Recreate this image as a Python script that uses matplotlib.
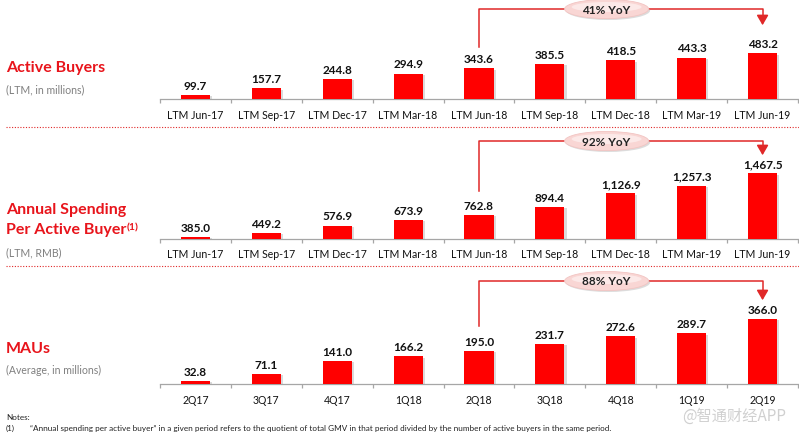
import numpy as np
import matplotlib
matplotlib.use('Agg')
import matplotlib.pyplot as plt
from matplotlib.patches import Ellipse
import matplotlib.patheffects as pe
from matplotlib import transforms

plt.rcParams['font.family'] = ['Lato', 'DejaVu Sans']

ltm_labels = ['LTM Jun-17', 'LTM Sep-17', 'LTM Dec-17', 'LTM Mar-18', 'LTM Jun-18',
              'LTM Sep-18', 'LTM Dec-18', 'LTM Mar-19', 'LTM Jun-19']
quarter_labels = ['2Q17', '3Q17', '4Q17', '1Q18', '2Q18', '3Q18', '4Q18', '1Q19', '2Q19']

active_buyers = [99.7, 157.7, 244.8, 294.9, 343.6, 385.5, 418.5, 443.3, 483.2]
spending = [385.0, 449.2, 576.9, 673.9, 762.8, 894.4, 1126.9, 1257.3, 1467.5]
maus = [32.8, 71.1, 141.0, 166.2, 195.0, 231.7, 272.6, 289.7, 366.0]

yoy_labels = ['41% YoY', '92% YoY', '88% YoY']

W, H = 799, 435
RED = '#FF0000'
TITLE_RED = '#E8141B'
GREY = '#808080'
LINE_RED = '#E02828'

fig = plt.figure(figsize=(W / 100, H / 100), dpi=100)


def fy(px):
    return 1 - px / H


def fx(px):
    return px / W


# panel layout: baseline px, top px, axis floor value, px per unit, bracket positions
panels = [
    dict(vals=active_buyers, labels=ltm_labels, base=100, top=0, floor=60, scale=0.108,
         br_top=10, br_start=48, br_tip=29, yoy=yoy_labels[0]),
    dict(vals=spending, labels=ltm_labels, base=239.5, top=135, floor=356, scale=0.0585,
         br_top=142, br_start=192, br_tip=159, yoy=yoy_labels[1]),
    dict(vals=maus, labels=quarter_labels, base=385, top=275, floor=16.7, scale=0.186,
         br_top=282, br_start=327, br_tip=304, yoy=yoy_labels[2]),
]

x_left, x_right = 160, 798

for p in panels:
    ax = fig.add_axes([fx(x_left), fy(p['base']), fx(x_right - x_left),
                       (p['base'] - p['top']) / H])
    n = len(p['vals'])
    x = np.arange(n)
    span = (p['base'] - p['top']) / p['scale']
    ax.set_xlim(-0.5, n - 0.5)
    ax.set_ylim(p['floor'], p['floor'] + span)
    bars = ax.bar(x, p['vals'], width=0.41, color=RED, zorder=3)
    for b in bars:
        b.set_path_effects([pe.SimplePatchShadow(offset=(1.5, -1), shadow_rgbFace='#999999', alpha=0.35),
                            pe.Normal()])
    for xi, v in zip(x, p['vals']):
        ax.annotate('{:,.1f}'.format(v), (xi, v), xytext=(0, 3), textcoords='offset points',
                    ha='center', va='bottom', fontsize=8.5, fontweight='bold', color='#111111')
    for s in ['top', 'right', 'left']:
        ax.spines[s].set_visible(False)
    ax.spines['bottom'].set_color('#A6A6A6')
    ax.spines['bottom'].set_linewidth(0.9)
    ax.set_yticks([])
    ax.set_xticks(np.arange(n + 1) - 0.5)
    ax.set_xticklabels([])
    ax.set_xticks(x, minor=True)
    ax.set_xticklabels(p['labels'], minor=True, fontsize=7.6, color='#111111')
    ax.tick_params(axis='x', which='major', length=3, color='#A6A6A6', width=0.9)
    ax.tick_params(axis='x', which='minor', length=0, pad=7)

    # YoY bracket
    trans = transforms.blended_transform_factory(ax.transData, fig.transFigure)
    x0, x1 = 4, 8
    ax.plot([x0, x0, x1, x1], [fy(p['br_start']), fy(p['br_top']), fy(p['br_top']), fy(p['br_tip'] - 8)],
            transform=trans, color=LINE_RED, lw=1.1, clip_on=False, zorder=4)
    ax.annotate('', xy=(x1, fy(p['br_tip'])), xycoords=trans,
                xytext=(x1, fy(p['br_tip'] - 10)), textcoords=trans,
                arrowprops=dict(arrowstyle='-|>,head_length=0.6,head_width=0.35', color=LINE_RED, lw=1.1),
                annotation_clip=False)
    xc = ax.transData.transform((5.8, 0))[0] / W
    shadow = Ellipse((xc + 1.5 / W, fy(p['br_top'] + 1.5)), 84 / W, 19 / H, transform=fig.transFigure,
                     facecolor='#BBBBBB', edgecolor='none', alpha=0.5, zorder=5)
    ell = Ellipse((xc, fy(p['br_top'])), 84 / W, 19 / H, transform=fig.transFigure,
                  facecolor='#F9D6D4', edgecolor='#F2C4C2', lw=0.6, zorder=6)
    inner = Ellipse((xc, fy(p['br_top'] - 2)), 70 / W, 10 / H, transform=fig.transFigure,
                    facecolor='#FCE9E8', edgecolor='none', zorder=6)
    fig.patches.extend([shadow, ell, inner])
    fig.text(xc, fy(p['br_top']), p['yoy'], ha='center', va='center', fontsize=8.5,
             fontweight='bold', color='#222222', zorder=7)

# left titles
fig.text(fx(6), fy(68), 'Active Buyers', fontsize=11.5, fontweight='bold', color=TITLE_RED, va='center')
fig.text(fx(6), fy(90), '(LTM, in millions)', fontsize=7.6, color=GREY, va='center')
fig.text(fx(6), fy(210), 'Annual Spending', fontsize=11.5, fontweight='bold', color=TITLE_RED, va='center')
t = fig.text(fx(6), fy(230), 'Per Active Buyer', fontsize=11.5, fontweight='bold', color=TITLE_RED, va='center')
renderer = fig.canvas.get_renderer()
bb = t.get_window_extent(renderer)
fig.text(bb.x1 / W + 0.5 / W, fy(227.5), '(1)', fontsize=7.5, fontweight='bold', color=TITLE_RED, va='center')
fig.text(fx(6), fy(253), '(LTM, RMB)', fontsize=7.6, color=GREY, va='center')
fig.text(fx(6), fy(349), 'MAUs', fontsize=11.5, fontweight='bold', color=TITLE_RED, va='center')
fig.text(fx(6), fy(370), '(Average, in millions)', fontsize=7.6, color=GREY, va='center')

# separators
for ysep in [128, 267]:
    fig.add_artist(plt.Line2D([fx(6), fx(799)], [fy(ysep), fy(ysep)], color=LINE_RED,
                              lw=0.8, linestyle=(0, (1, 1.5))))

# notes
fig.text(fx(6), fy(418), 'Notes:', fontsize=5.9, color='#222222', va='center')
fig.text(fx(6), fy(428.5), '(1)', fontsize=5.9, color='#222222', va='center')
fig.text(fx(30), fy(428.5), '\u201cAnnual spending per active buyer\u201d in a given period refers to the quotient of total GMV '
         'in that period divided by the number of active buyers in the same period.',
         fontsize=5.9, color='#222222', va='center')

fig.text(fx(682), fy(416), '@智通财经APP', fontsize=11, color='#D0D0D0', va='center',
         family=['Noto Sans CJK SC', 'DejaVu Sans'])

fig.savefig('out.png', dpi=100)
